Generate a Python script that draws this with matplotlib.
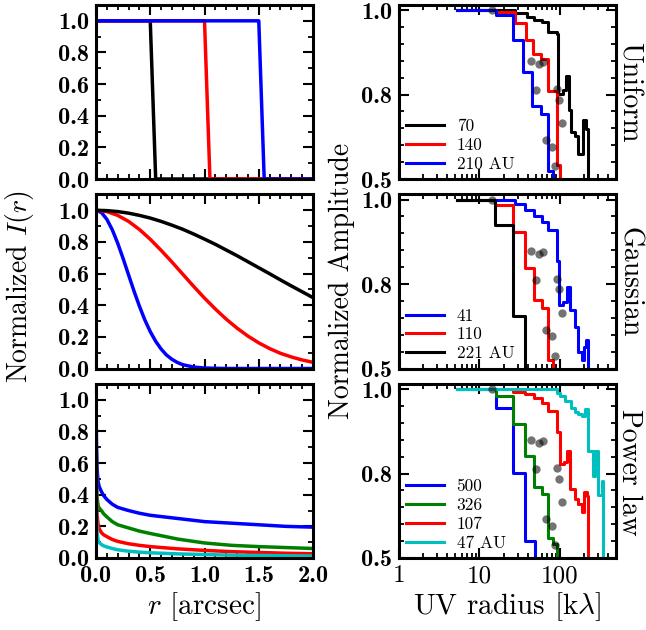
import numpy as np
import matplotlib
matplotlib.use('Agg')
import matplotlib.pyplot as plt
from matplotlib.ticker import MultipleLocator, FixedLocator, NullFormatter, LogLocator

plt.rcParams['mathtext.fontset'] = 'cm'
plt.rcParams['axes.unicode_minus'] = False

# ─── left column: normalized radial profiles I(r) ────────────────────────────
# uniform disks (70, 140, 210 AU)
uni_r_70 = [0.0, 0.50, 0.55, 2.0]
uni_r_140 = [0.0, 1.00, 1.05, 2.0]
uni_r_210 = [0.0, 1.50, 1.55, 2.0]
uni_I = [1.0, 1.0, 0.0, 0.0]

# gaussians (41, 110, 221 AU)
gau_r_41 = [0.0, 0.05, 0.10, 0.15, 0.20, 0.25, 0.30, 0.35, 0.40, 0.45, 0.50,
            0.55, 0.60, 0.65, 0.70, 0.75, 0.80, 0.90, 1.00, 1.20, 2.00]
gau_I_41 = [1.0, 0.986, 0.943, 0.877, 0.792, 0.695, 0.592, 0.490, 0.394, 0.307,
            0.233, 0.172, 0.123, 0.085, 0.058, 0.038, 0.024, 0.009, 0.003, 0.0, 0.0]
gau_r = [0.0, 0.1, 0.2, 0.3, 0.4, 0.5, 0.6, 0.7, 0.8, 0.9, 1.0,
         1.1, 1.2, 1.3, 1.4, 1.5, 1.6, 1.7, 1.8, 1.9, 2.0]
gau_I_110 = [1.0, 0.992, 0.968, 0.930, 0.879, 0.817, 0.747, 0.673, 0.596, 0.519, 0.445,
             0.376, 0.312, 0.255, 0.205, 0.162, 0.126, 0.096, 0.073, 0.054, 0.039]
gau_I_221 = [1.0, 0.998, 0.992, 0.982, 0.968, 0.951, 0.930, 0.906, 0.880, 0.850, 0.818,
             0.785, 0.749, 0.713, 0.675, 0.637, 0.599, 0.560, 0.522, 0.485, 0.448]

# power laws (500, 326, 107, 47 AU)
pl_r = [0.0, 0.005, 0.01, 0.02, 0.03, 0.05, 0.07, 0.1, 0.15, 0.2, 0.3, 0.4, 0.5,
        0.75, 1.0, 1.25, 1.5, 1.75, 2.0]
pl_I_500 = [1.0, 0.70, 0.56, 0.48, 0.45, 0.42, 0.395, 0.37, 0.34, 0.32, 0.30, 0.283, 0.27,
            0.25, 0.23, 0.22, 0.21, 0.20, 0.195]
pl_I_326 = [1.0, 0.45, 0.38, 0.33, 0.315, 0.30, 0.28, 0.26, 0.23, 0.21, 0.19, 0.17, 0.155,
            0.12, 0.095, 0.08, 0.072, 0.066, 0.06]
pl_I_107 = [1.0, 0.35, 0.27, 0.21, 0.185, 0.16, 0.147, 0.135, 0.117, 0.105, 0.09, 0.08, 0.072,
            0.058, 0.048, 0.04, 0.035, 0.03, 0.027]
pl_I_47 = [1.0, 0.25, 0.16, 0.11, 0.097, 0.085, 0.077, 0.07, 0.06, 0.052, 0.043, 0.037, 0.033,
           0.026, 0.022, 0.018, 0.016, 0.014, 0.012]

# ─── right column: binned model amplitudes (step curves) ──────────────────────
uni_u_70 = [5.2, 27.7, 38.8, 47.8, 59.6, 72, 91.5, 95.9, 110.7, 118, 130, 138, 154, 167, 196, 210, 226, 240]
uni_a_70 = [1.0, 0.992, 0.984, 0.976, 0.972, 0.948, 0.944, 0.802, 0.81, 0.843, 0.744, 0.666,
            0.654, 0.589, 0.708, 0.678, 0.3, 0.3]
uni_u_140 = [5.2, 16.0, 27.7, 38.0, 46.9, 57.9, 71, 93, 102, 110]
uni_a_140 = [1.0, 0.996, 0.970, 0.930, 0.895, 0.883, 0.808, 0.548, 0.3, 0.3]
uni_u_210 = [5.2, 16.0, 26.4, 35.2, 45.5, 57.9, 70.8, 83, 90]
uni_a_210 = [1.0, 0.988, 0.929, 0.853, 0.761, 0.732, 0.530, 0.3, 0.3]

gau_u_41 = [5.2, 27.7, 36.9, 47.8, 59.6, 72, 91.5, 97, 110.7, 122, 134, 154.5, 170, 187, 200, 212, 226, 240]
gau_a_41 = [1.0, 0.989, 0.976, 0.962, 0.947, 0.927, 0.855, 0.727, 0.735, 0.789, 0.709, 0.646,
            0.56, 0.53, 0.578, 0.602, 0.3, 0.3]
gau_u_110 = [5.2, 15.6, 26.4, 36.9, 47.8, 59.6, 72, 83, 90]
gau_a_110 = [1.0, 0.986, 0.923, 0.839, 0.745, 0.715, 0.530, 0.3, 0.3]
gau_u_221 = [5.2, 15.6, 26.4, 36.9, 40]
gau_a_221 = [1.0, 0.939, 0.685, 0.3, 0.3]

pl_u_500 = [5.2, 15.9, 25.9, 36.9, 49.2, 55]
pl_a_500 = [1.0, 0.955, 0.802, 0.56, 0.3, 0.3]
pl_u_326 = [5.2, 15.9, 25.9, 36.9, 47.8, 59.6, 72, 83, 91.5, 100]
pl_a_326 = [1.0, 0.983, 0.917, 0.842, 0.752, 0.728, 0.571, 0.551, 0.3, 0.3]
pl_u_107 = [5.2, 25.9, 36.9, 47.8, 59.6, 72, 91.5, 100.6, 112, 122, 134, 154.5, 170, 187, 200, 215, 226, 240]
pl_a_107 = [1.0, 0.992, 0.988, 0.980, 0.968, 0.949, 0.898, 0.823, 0.828, 0.854, 0.745, 0.710,
            0.692, 0.663, 0.734, 0.72, 0.3, 0.3]
pl_u_47 = [5.2, 91.5, 100.6, 116, 136.6, 154.5, 170, 187, 206, 226, 261, 275, 301, 332, 348, 360]
pl_a_47 = [1.0, 0.99, 0.983, 0.972, 0.955, 0.945, 0.940, 0.937, 0.952, 0.854, 0.79, 0.854,
           0.722, 0.772, 0.3, 0.3]

# observed amplitudes (same in all three panels)
obs_u = [14.2, 43.8, 50.1, 55.0, 62.4, 67.3, 80.7, 87.1, 91.5, 97.7, 105.5]
obs_a = [1.0, 0.879, 0.81, 0.872, 0.877, 0.637, 0.615, 0.545, 0.812, 0.781, 0.698]

row_names = ['Uniform', 'Gaussian', 'Power law']

LW_L = 2.5
LW_R = 2.2
BOLD = 'cmb10'
ROMAN = 'cmr10'
TICK_SIZE = 17.5


# amplitude axis: 0.5 -> 0.8 takes the same height as 0.8 -> 1.0
def amp_fwd(a):
    a = np.asarray(a, dtype=float)
    return np.where(a < 0.8, (a - 0.5) / 0.6, 0.5 + (a - 0.8) / 0.4)


def amp_inv(s):
    s = np.asarray(s, dtype=float)
    return np.where(s < 0.5, 0.5 + 0.6 * s, 0.8 + 0.4 * (s - 0.5))


def style_common(ax):
    for sp in ax.spines.values():
        sp.set_linewidth(2.2)
    ax.tick_params(which='both', direction='in', top=True, right=True)
    ax.tick_params(which='major', length=7, width=1.5)
    ax.tick_params(which='minor', length=3.6, width=1.3)


def style_left(ax, show_x):
    style_common(ax)
    ax.set_xlim(0, 2.0)
    ax.set_ylim(0, 1.1)
    ax.xaxis.set_major_locator(MultipleLocator(0.5))
    ax.xaxis.set_minor_locator(MultipleLocator(0.1))
    ax.yaxis.set_minor_locator(MultipleLocator(0.1))
    ax.set_yticks([0.0, 0.2, 0.4, 0.6, 0.8, 1.0])
    ax.set_yticklabels(['0.0', '0.2', '0.4', '0.6', '0.8', '1.0'])
    ax.tick_params(axis='y', labelfontfamily=BOLD, labelsize=TICK_SIZE, pad=5)
    if show_x:
        ax.set_xticks([0.0, 0.5, 1.0, 1.5, 2.0])
        ax.set_xticklabels(['0.0', '0.5', '1.0', '1.5', '2.0'])
        ax.tick_params(axis='x', labelfontfamily=BOLD, labelsize=TICK_SIZE, pad=5)
    else:
        ax.xaxis.set_major_formatter(NullFormatter())


def style_right(ax, show_x):
    style_common(ax)
    ax.set_xscale('log')
    ax.set_yscale('function', functions=(amp_fwd, amp_inv))
    ax.set_xlim(1, 500)
    ax.set_ylim(0.5, 1.012)
    ax.yaxis.set_minor_locator(FixedLocator([0.56, 0.62, 0.68, 0.74, 0.84, 0.88, 0.92, 0.96]))
    ax.yaxis.set_minor_formatter(NullFormatter())
    ax.set_yticks([0.5, 0.8, 1.0])
    ax.set_yticklabels(['0.5', '0.8', '1.0'])
    ax.tick_params(axis='y', labelfontfamily=BOLD, labelsize=TICK_SIZE, pad=5)
    ax.xaxis.set_minor_locator(LogLocator(base=10, subs=np.arange(2, 10), numticks=20))
    ax.xaxis.set_minor_formatter(NullFormatter())
    ax.set_xticks([1, 10, 100])
    if show_x:
        ax.set_xticklabels(['1', '10', '100'])
        ax.tick_params(axis='x', labelfontfamily=ROMAN, labelsize=18, pad=5)
    else:
        ax.set_xticklabels([])


def add_obs(ax):
    ax.plot(obs_u, obs_a, 'o', color='k', alpha=0.55, ms=6, mec='none', zorder=5)


def add_legend(ax):
    ax.legend(loc='lower left', frameon=False, handlelength=2.2, handletextpad=0.7,
              labelspacing=0.2, borderaxespad=0.12, borderpad=0.3,
              prop={'family': ROMAN, 'size': 12.5})


fig, axes = plt.subplots(3, 2, figsize=(6.46, 6.30), dpi=100)
fig.subplots_adjust(left=96 / 646, right=616 / 646, bottom=1 - 558 / 630, top=1 - 5 / 630,
                    wspace=0.396, hspace=0.089)

# ─── row 1: uniform ─────────────────────────────────────────────────────────
ax = axes[0, 0]
ax.plot(uni_r_70, uni_I, color='k', lw=LW_L)
ax.plot(uni_r_140, uni_I, color='r', lw=LW_L)
ax.plot(uni_r_210, uni_I, color='b', lw=LW_L)
style_left(ax, False)

ax = axes[0, 1]
ax.step(uni_u_70, uni_a_70, where='post', color='k', lw=LW_R, label='70')
ax.step(uni_u_140, uni_a_140, where='post', color='r', lw=LW_R, label='140')
ax.step(uni_u_210, uni_a_210, where='post', color='b', lw=LW_R, label='210 AU')
add_obs(ax)
style_right(ax, False)
add_legend(ax)

# ─── row 2: gaussian ────────────────────────────────────────────────────────
ax = axes[1, 0]
ax.plot(gau_r_41, gau_I_41, color='b', lw=LW_L)
ax.plot(gau_r, gau_I_110, color='r', lw=LW_L)
ax.plot(gau_r, gau_I_221, color='k', lw=LW_L)
style_left(ax, False)

ax = axes[1, 1]
ax.step(gau_u_41, gau_a_41, where='post', color='b', lw=LW_R, label='41')
ax.step(gau_u_110, gau_a_110, where='post', color='r', lw=LW_R, label='110')
ax.step(gau_u_221, gau_a_221, where='post', color='k', lw=LW_R, label='221 AU')
add_obs(ax)
style_right(ax, False)
add_legend(ax)

# ─── row 3: power law ───────────────────────────────────────────────────────
ax = axes[2, 0]
ax.plot(pl_r, pl_I_500, color='b', lw=LW_L)
ax.plot(pl_r, pl_I_326, color='g', lw=LW_L)
ax.plot(pl_r, pl_I_107, color='r', lw=LW_L)
ax.plot(pl_r, pl_I_47, color='c', lw=LW_L)
style_left(ax, True)

ax = axes[2, 1]
ax.step(pl_u_500, pl_a_500, where='post', color='b', lw=LW_R, label='500')
ax.step(pl_u_326, pl_a_326, where='post', color='g', lw=LW_R, label='326')
ax.step(pl_u_107, pl_a_107, where='post', color='r', lw=LW_R, label='107')
ax.step(pl_u_47, pl_a_47, where='post', color='c', lw=LW_R, label='47 AU')
add_obs(ax)
style_right(ax, True)
add_legend(ax)

# ─── labels ─────────────────────────────────────────────────────────────────
fig.text(20 / 646, 1 - 287 / 630, 'Normalized $I(r)$', rotation=90, ha='center', va='center',
         family=ROMAN, size=20)
fig.text(342 / 646, 1 - 281 / 630, 'Normalized Amplitude', rotation=90, ha='center', va='center',
         family=ROMAN, size=20)
fig.text(204 / 646, 1 - 607 / 630, '$r$ [arcsec]', ha='center', va='center', family=ROMAN, size=21)
fig.text(507 / 646, 1 - 607 / 630, r'UV radius [k$\lambda$]', ha='center', va='center',
         family=ROMAN, size=21)
for name, yc in zip(row_names, [92, 282, 472]):
    fig.text(629 / 646, 1 - yc / 630, name, rotation=-90, ha='center', va='center',
             family=ROMAN, size=20)

fig.savefig('out.png', dpi=100)
